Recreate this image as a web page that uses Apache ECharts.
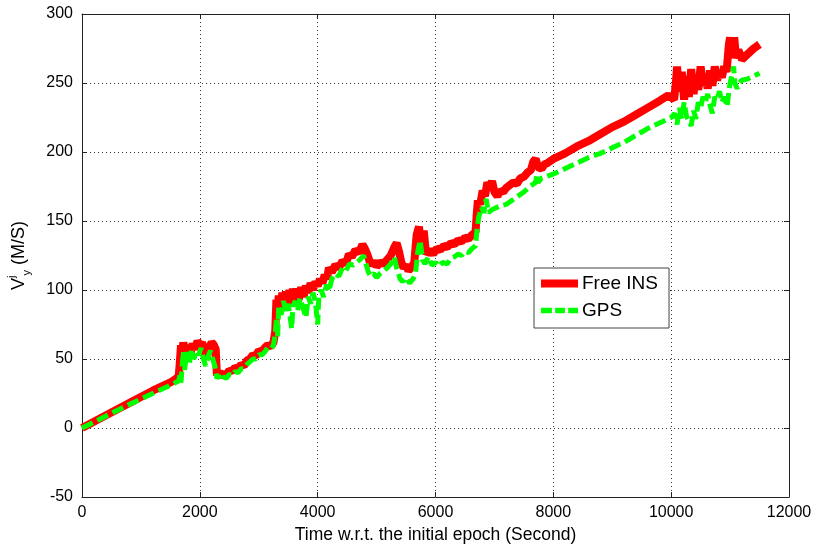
<!DOCTYPE html>
<html>
<head>
<meta charset="utf-8">
<script src="https://cdn.jsdelivr.net/npm/echarts@6/dist/echarts.min.js"></script>
<style>
html,body{margin:0;padding:0;background:#fff;}
#chart{width:820px;height:550px;}
</style>
</head>
<body>
<div id="chart"></div>
<script>
// Free INS (red)
var insT = [0,400,800,1200,1500,1640,1660,1680,1700,1720,1760,1800,1840,1880,1920,1960,2000,2040,2080,2120,2160,2200,2240,2270,2290,2320,2360,2400,2450,2500,2550,2600,2650,2700,2750,2800,2850,2900,2950,3000,3050,3100,3150,3200,3250,3280,3300,3320,3340,3370,3400,3430,3460,3490,3520,3550,3580,3610,3640,3680,3720,3760,3800,3840,3880,3920,3960,4000,4040,4080,4120,4160,4190,4240,4300,4360,4420,4480,4530,4580,4640,4700,4760,4800,4840,4880,4920,4960,5000,5060,5120,5180,5240,5300,5340,5380,5420,5460,5500,5540,5600,5640,5680,5720,5760,5800,5840,5900,5960,6020,6080,6140,6200,6260,6320,6380,6440,6500,6560,6620,6680,6700,6720,6760,6800,6840,6880,6920,6960,7000,7050,7100,7150,7200,7260,7320,7380,7440,7500,7560,7620,7660,7700,7740,7800,7850,7900,8000,8200,8400,8600,8800,9000,9200,9400,9600,9800,9950,10050,10080,10100,10130,10180,10220,10260,10300,10340,10380,10420,10460,10500,10540,10580,10620,10660,10700,10740,10780,10820,10860,10900,10940,10980,11000,11040,11070,11100,11140,11200,11300,11400,11500];
var insV = [0,9,18,27,33,37,47,60,55,62,52,60,54,61,57,63,60,62,55,51,58,62,60,57,38,41,37,40,38,42,41,44,43,46,45,49,50,53,52,56,55,58,60,59,62,70,93,84,96,86,98,88,99,90,100,89,101,91,101,93,102,95,103,98,105,100,106,103,108,105,111,108,116,113,118,116,121,119,126,124,129,127,133,130,126,121,118,121,117,120,119,122,125,131,134,128,120,116,118,114,117,120,140,146,128,143,126,129,126,130,129,132,131,134,133,136,135,138,137,140,142,155,165,162,172,168,178,174,179,171,168,172,171,174,176,178,177,181,182,185,187,193,195,189,188,191,192,195,199,204,208,213,218,222,227,232,237,241,238,250,262,244,258,238,255,240,260,242,256,245,262,248,254,246,259,248,262,252,258,254,262,258,278,283,268,283,268,274,267,271,275,278];
// GPS (green)
var gpsT = [0,400,800,1200,1500,1640,1660,1680,1700,1720,1740,1780,1820,1860,1900,1940,1980,2020,2060,2100,2140,2180,2220,2260,2290,2320,2360,2400,2450,2500,2550,2600,2650,2700,2750,2800,2850,2900,2950,3000,3050,3100,3150,3200,3250,3280,3300,3320,3340,3380,3420,3460,3500,3540,3560,3580,3620,3660,3700,3760,3800,3840,3880,3920,3960,4000,4020,4060,4100,4150,4190,4240,4300,4360,4420,4480,4540,4600,4660,4720,4780,4820,4860,4900,4950,5000,5060,5120,5180,5240,5300,5340,5400,5440,5500,5560,5620,5660,5700,5740,5780,5820,5880,5940,6000,6060,6120,6200,6260,6320,6380,6440,6500,6560,6620,6680,6700,6730,6780,6820,6860,6900,6950,7000,7100,7200,7300,7400,7500,7600,7700,7720,7740,7800,8000,8200,8400,8600,8800,9000,9200,9400,9600,9800,10000,10060,10100,10140,10180,10220,10260,10300,10340,10380,10420,10460,10500,10540,10580,10620,10660,10700,10740,10780,10820,10860,10900,10950,10980,11000,11040,11060,11080,11120,11160,11200,11300,11400,11500];
var gpsV = [0,8.5,17,25,31,34,38,33,44,56,42,55,46,57,50,56,53,58,50,45,52,56,50,44,36,38,34,37,36,39,38,41,40,43,43,46,48,50,50,53,53,55,58,57,60,68,80,66,88,82,92,84,90,78,72,88,92,85,94,86,80,95,90,98,92,75,96,100,95,104,99,108,112,110,116,114,119,118,120,122,125,119,113,110,112,109,112,114,116,119,124,116,108,106,109,105,108,112,128,136,122,119,124,118,120,117,120,119,123,124,126,125,128,127,130,132,142,152,160,156,166,156,158,159,161,162,165,168,171,175,178,184,178,181,184,188,192,196,199,203,207,212,217,221,225,228,220,232,224,236,226,222,219,230,224,236,232,240,236,242,234,228,240,238,244,236,240,233,244,250,257,262,250,246,250,252,253,255,257];
var xTicks = [0,2000,4000,6000,8000,10000,12000];
var yTicks = [-50,0,50,100,150,200,250,300];
var seriesNames = ['Free INS','GPS'];

var insData = insT.map(function(t,i){return [t, insV[i]];});
var gpsData = gpsT.map(function(t,i){return [t, gpsV[i]];});

var FONT = "'Liberation Sans', Arial, sans-serif";
var chart = echarts.init(document.getElementById('chart'), null, {renderer:'canvas'});
var axisCommon = {
  type:'value',
  axisLine:{show:true, onZero:false, lineStyle:{color:'#222', width:1}},
  axisTick:{show:true, inside:true, length:5, lineStyle:{color:'#222'}},
};
var plain = function(v){ return String(v); };
chart.setOption({
  animation:false,
  backgroundColor:'#fff',
  grid:{left:82, right:31, top:14, bottom:53, show:false, containLabel:false, outerBoundsMode:'none'},
  xAxis:[
    Object.assign({}, axisCommon, {
      min:xTicks[0], max:xTicks[xTicks.length-1], interval:2000, position:'bottom',
      name:'Time w.r.t. the initial epoch (Second)', nameLocation:'middle', nameGap:27,
      nameTextStyle:{fontFamily:FONT, fontSize:17.5, color:'#000'},
      axisLabel:{fontFamily:FONT, fontSize:16, color:'#000', margin:8, formatter:plain},
      splitLine:{show:true, lineStyle:{color:'#333', type:[1,3], width:1}}
    }),
    Object.assign({}, axisCommon, {
      min:xTicks[0], max:xTicks[xTicks.length-1], interval:2000, position:'top',
      axisLabel:{show:false}, splitLine:{show:false}
    })
  ],
  yAxis:[
    Object.assign({}, axisCommon, {
      min:yTicks[0], max:yTicks[yTicks.length-1], interval:50, position:'left',
      name:'{v|V}{sup|j}{sub|y}{v| (M/S)}', nameLocation:'middle', nameGap:50, nameRotate:90,
      nameTextStyle:{fontFamily:FONT, fontSize:18, color:'#000',
        rich:{
          v:{fontFamily:FONT, fontSize:18, color:'#000', lineHeight:26, verticalAlign:'middle'},
          sup:{fontFamily:FONT, fontSize:11, color:'#000', lineHeight:26, verticalAlign:'top'},
          sub:{fontFamily:FONT, fontSize:11, color:'#000', lineHeight:26, verticalAlign:'bottom'}
        }},
      axisLabel:{fontFamily:FONT, fontSize:16, color:'#000', margin:9, formatter:plain},
      splitLine:{show:true, lineStyle:{color:'#333', type:[1,3], width:1}}
    }),
    Object.assign({}, axisCommon, {
      min:yTicks[0], max:yTicks[yTicks.length-1], interval:50, position:'right',
      axisLabel:{show:false}, splitLine:{show:false}
    })
  ],
  legend:{
    orient:'vertical', left:534, top:268,
    padding:[6,11,8,7], itemGap:8, itemWidth:37, itemHeight:24,
    borderColor:'#444', borderWidth:1, backgroundColor:'#fff',
    textStyle:{fontFamily:FONT, fontSize:19, color:'#000', padding:[0,0,0,-1]},
    data:[
      {name:seriesNames[0], icon:'path://M0,0 L37,0 L37,8 L0,8 Z', itemStyle:{color:'#ff0000'}},
      {name:seriesNames[1], icon:'path://M0,0 L10,0 L10,5 L0,5 Z M13,0 L22,0 L22,5 L13,5 Z M25,0 L34,0 L34,5 L25,5 Z', itemStyle:{color:'#00ff00'}}
    ]
  },
  series:[
    {name:seriesNames[0], type:'line', data:insData, showSymbol:false, symbol:'none',
     lineStyle:{color:'#ff0000', width:8}, itemStyle:{color:'#ff0000'}, z:2},
    {name:seriesNames[1], type:'line', data:gpsData, showSymbol:false, symbol:'none',
     lineStyle:{color:'#00ff00', width:5, type:[12,5]}, itemStyle:{color:'#00ff00'}, z:3}
  ]
});
</script>
</body>
</html>
